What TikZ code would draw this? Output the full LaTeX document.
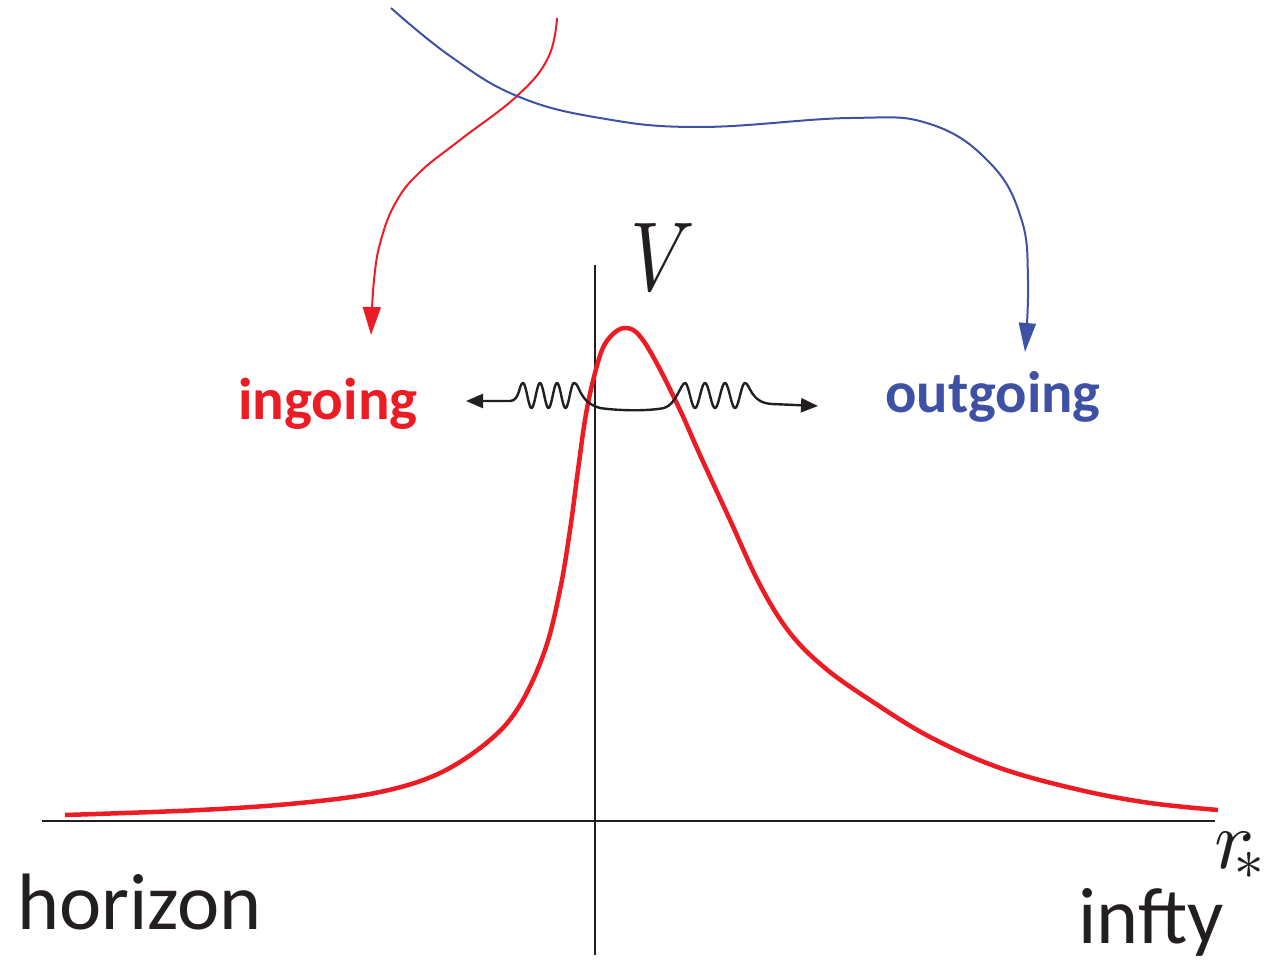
\documentclass[tikz,border=0pt]{standalone}
\usepackage{fontspec}
\usepackage{unicode-math}
\setmainfont{Carlito}
\setmathfont{Latin Modern Math}
\usetikzlibrary{arrows.meta}
\definecolor{myred}{RGB}{237,28,36}
\definecolor{myblue}{RGB}{63,81,165}
\definecolor{myblack}{RGB}{35,31,32}
\tikzset{
  axis/.style={draw=myblack, line width=1.5pt},
  potential/.style={draw=myred, line width=4.5pt},
  inarrow/.style={draw=myred, line width=2pt, -{Triangle[length=28pt,width=18pt]}},
  outarrow/.style={draw=myblue, line width=2pt, -{Triangle[length=29pt,width=17pt]}},
  wave/.style={draw=myblack, line width=2.4pt, line join=round,
    {Triangle[length=17pt,width=14pt]}-{Triangle[length=17pt,width=14pt]}},
  lbl/.style={inner sep=0pt, anchor=base west},
}
\begin{document}
\begin{tikzpicture}[x=1pt,y=-1pt]
\useasboundingbox (0,0) rectangle (1275,974);
% axes
\coordinate (xl) at (42,821);
\coordinate (xr) at (1215,821);
\coordinate (yt) at (595,265);
\coordinate (yb) at (595,955);
\draw[axis] (xl) -- (xr);
\draw[axis] (yt) -- (yb);
% potential
\draw[potential] plot[smooth, tension=0.6] coordinates {
 (65,815) (200,810) (300,803) (380,792) (440,773) (490,740) (520,705)
 (545,650) (560,590) (570,530) (578,470) (585,420) (592,385) (602,350)
 (613,334) (625,328) (638,334) (655,360) (680,410) (700,455) (730,520)
 (760,585) (790,633) (825,668) (870,700) (930,737) (1000,768) (1080,790)
 (1150,803) (1218,810)};
% ingoing / outgoing arrows
\draw[inarrow] plot[smooth, tension=0.7] coordinates {
 (557,18) (548,58) (517,96) (460,140) (420,172) (396,202) (381,240)
 (374,280) (371,335)};
\draw[outarrow] plot[smooth, tension=0.7] coordinates {
 (391,8) (450,56) (517,96) (600,118) (700,127) (850,118) (930,124)
 (990,163) (1021,218) (1028,280) (1025,352)};
% wave packets
\coordinate (wl) at (466,401);
\coordinate (wr) at (818,406);
\draw[wave] (wl) -- (510,401) .. controls (520,401) and (519,383) .. (523,383)
  -- plot[domain=0:3, samples=90] ({523+17*\x},{395.5-12.5*cos(360*\x)})
  .. controls (580,383) and (578,402) .. (600,408)
  .. controls (620,411) and (650,411) .. (664,408)
  .. controls (676,405) and (681,383) .. (685,383)
  -- plot[domain=0:3, samples=90] ({685+20*\x},{395.5-12.5*cos(360*\x)})
  .. controls (750,383) and (750,403) .. (772,404)
  -- (wr);
% labels
\node[lbl, text=myred] (ing) at (238,419) {\fontsize{59}{59}\selectfont\bfseries ingoing};
\node[lbl, text=myblue] (outg) at (885,412) {\fontsize{58.5}{58.5}\selectfont\bfseries outgoing};
\node[lbl, text=myblack] (hor) at (17,929) {\fontsize{80}{80}\selectfont horizon};
\node[lbl, text=myblack] (inf) at (1078,943) {\fontsize{80}{80}\selectfont infty};
\node[lbl, text=myblack] (V) at (630,290) {\fontsize{98}{98}\selectfont\scalebox{0.82}[1]{$V$}};
\node[lbl, text=myblack] (r) at (1214,868) {\fontsize{84}{84}\selectfont $r\mkern-4mu\raisebox{-11pt}{$\scriptstyle *$}$};
\end{tikzpicture}
\end{document}
